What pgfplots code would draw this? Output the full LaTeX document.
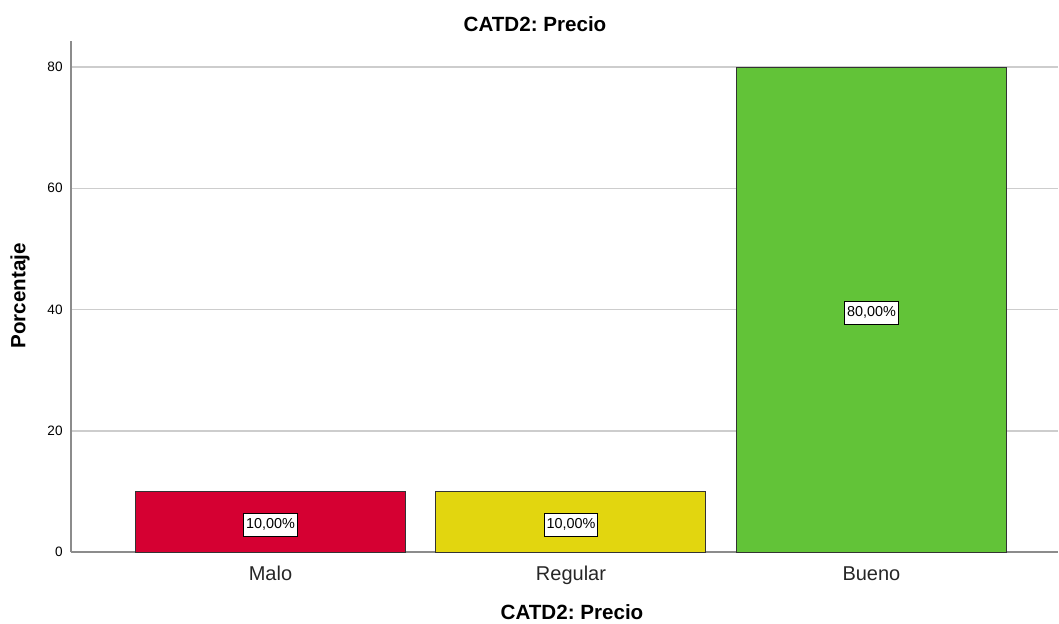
\documentclass[border=0pt]{standalone}
\usepackage{pgfplots}
\pgfplotsset{compat=1.18}
\usepackage{fontspec}
\setmainfont{Liberation Sans}
\frenchspacing
\definecolor{cRed}{RGB}{213,0,50}
\definecolor{cYel}{RGB}{226,214,15}
\definecolor{cGrn}{RGB}{98,195,56}
\definecolor{axgray}{RGB}{140,140,140}
\definecolor{gridgray}{RGB}{205,205,205}
\begin{document}
\begin{tikzpicture}
\path[use as bounding box] (0,0) rectangle (529.5pt,311.5pt);
\begin{axis}[
  at={(35.5pt,35.5pt)}, anchor=south west,
  scale only axis, width=493.5pt, height=255.5pt,
  xmin=-0.664, xmax=2.621, ymin=0, ymax=84.3,
  axis x line=bottom, axis y line=left,
  axis line style={-, draw=axgray, line width=0.75pt},
  xtick={0,1,2}, xticklabels={Malo,Regular,Bueno},
  ytick={0,20,40,60,80},
  major tick length=0pt,
  tick style={draw=none},
  ymajorgrids, grid style={draw=gridgray, line width=0.75pt},
  xticklabel style={font=\fontsize{10}{12}\selectfont, anchor=base, yshift=-14pt, inner sep=0pt, text=black!85},
  yticklabel style={font=\fontsize{6.8}{8}\selectfont, anchor=east, inner sep=0pt, xshift=-4pt},
  /pgf/number format/assume math mode=true,
  title={CATD2: Precio},
  title style={font=\fontsize{10.3}{12}\selectfont\bfseries, at={(axis description cs:0.4701,1.0098)}, anchor=center, inner sep=0pt},
  xlabel={CATD2: Precio},
  xlabel style={font=\fontsize{10.3}{12}\selectfont\bfseries, at={(axis description cs:0.5076,-0.1174)}, anchor=center, inner sep=0pt},
  ylabel={Porcentaje},
  ylabel style={font=\fontsize{10.3}{12}\selectfont\bfseries, at={(axis description cs:-0.0517,0.501)}, anchor=center, inner sep=0pt, rotate=0},
  clip=false,
]
\addplot[ybar, bar width=0.8985, bar shift=0pt, fill=cRed, draw=black!80, line width=0.5pt] coordinates {(0,10)};
\addplot[ybar, bar width=0.8985, bar shift=0pt, fill=cYel, draw=black!80, line width=0.5pt] coordinates {(1,10)};
\addplot[ybar, bar width=0.8985, bar shift=0pt, fill=cGrn, draw=black!80, line width=0.5pt] coordinates {(2,80)};
\addplot[only marks, mark=none, point meta=explicit symbolic, nodes near coords,
  every node near coord/.style={anchor=center, yshift=-1.5pt, fill=white, draw=black, line width=0.4pt,
    font=\fontsize{7.2}{8}\selectfont, text height=5.2pt, text depth=1.2pt, inner xsep=1.25pt, inner ysep=2.5pt}]
  coordinates {(0,5) [10,00\%] (1,5) [10,00\%] (2,40) [80,00\%]};
\end{axis}
\end{tikzpicture}
\end{document}
